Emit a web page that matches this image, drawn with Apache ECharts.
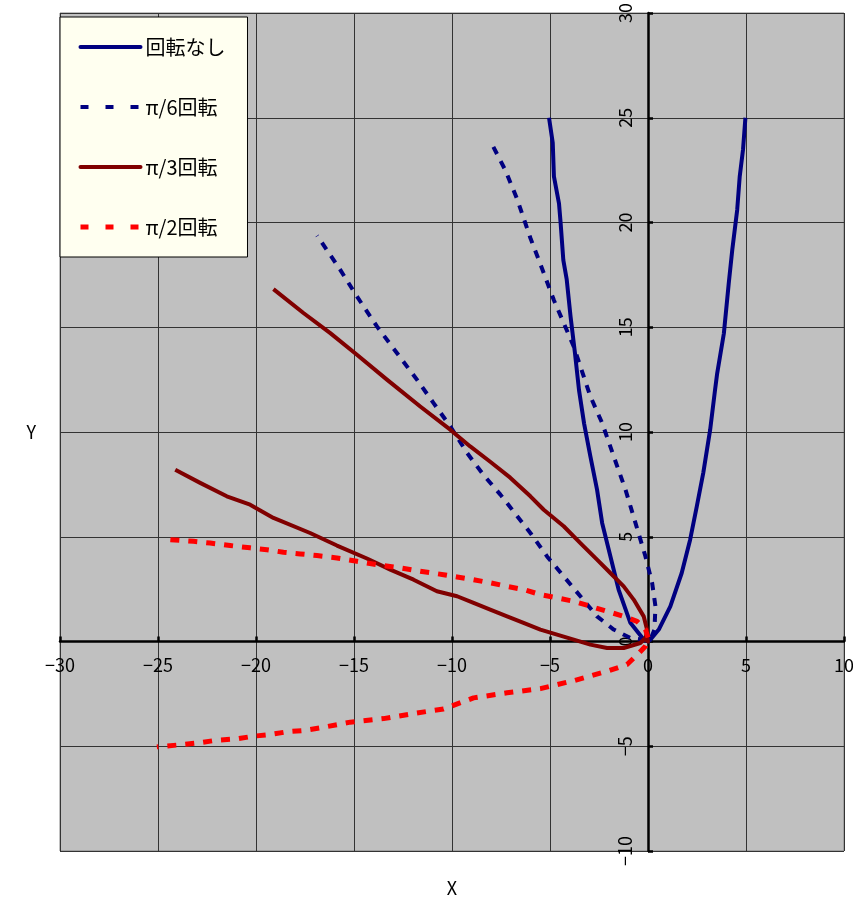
<!DOCTYPE html>
<html>
<head>
<meta charset="utf-8">
<script src="https://cdn.jsdelivr.net/npm/echarts@6/dist/echarts.min.js"></script>
<style>
  html, body { margin: 0; padding: 0; background: #fff; }
  #chart { width: 853px; height: 902px; }
</style>
</head>
<body>
<div id="chart"></div>
<script>
// series names
const names = ['回転なし', 'π/6回転', 'π/3回転', 'π/2回転'];

// axis ranges / ticks
const xRange = [-30, 10];
const yRange = [-10, 30];
const tickStep = 5;

// points, [x, y]
const noRot = [
  [-5.05, 25.0], [-4.86, 23.8], [-4.80, 22.2], [-4.54, 20.9], [-4.46, 20.0],
  [-4.32, 18.2], [-4.15, 17.3], [-3.95, 15.5], [-3.73, 13.8], [-3.52, 12.0],
  [-3.26, 10.4], [-2.94, 8.84], [-2.60, 7.25], [-2.34, 5.66], [-1.92, 4.07],
  [-1.50, 2.48], [-0.90, 0.89], [-0.22, 0.09], [0, 0], [0.12, 0.09],
  [0.55, 0.57], [1.14, 1.68], [1.72, 3.27], [2.15, 4.86], [2.49, 6.45],
  [2.82, 8.05], [3.17, 10.1], [3.42, 12.0], [3.53, 12.8], [3.87, 14.7],
  [4.12, 17.1], [4.30, 18.7], [4.55, 20.6], [4.68, 22.2], [4.85, 23.5], [4.97, 25.0]
];

const rot30 = [
  [-7.89, 23.61], [-7.28, 22.5], [-6.67, 21.1], [-6.00, 19.26], [-5.32, 17.59],
  [-4.81, 16.31], [-4.30, 15.20], [-3.79, 14.08], [-3.45, 13.13], [-2.94, 11.70],
  [-2.34, 10.43], [-1.75, 8.84], [-1.15, 7.25], [-0.64, 5.66], [-0.13, 4.06],
  [0.21, 2.80], [0.38, 1.68], [0.33, 0.57], [0.12, 0.09], [0, 0],
  [-0.23, 0.09], [-0.90, 0.17], [-1.75, 0.57], [-2.60, 1.20], [-3.45, 2.16],
  [-4.30, 3.11], [-5.15, 4.06], [-6.00, 5.18], [-6.77, 6.10], [-7.53, 7.01],
  [-8.40, 7.96], [-9.23, 9.00], [-10.09, 10.27], [-10.94, 11.38], [-11.79, 12.50],
  [-12.81, 13.77], [-13.83, 15.04], [-14.85, 16.47], [-15.70, 17.74], [-16.88, 19.37]
];

const rot60 = [
  [-19.11, 16.82], [-17.58, 15.68], [-16.21, 14.72], [-14.85, 13.69], [-13.32, 12.50],
  [-11.62, 11.22], [-10.09, 10.11], [-9.07, 9.31], [-8.05, 8.58], [-7.03, 7.82],
  [-6.00, 6.93], [-5.32, 6.29], [-4.30, 5.50], [-3.45, 4.70], [-2.60, 3.91],
  [-1.92, 3.27], [-1.24, 2.63], [-0.73, 2.00], [-0.22, 1.20], [-0.05, 0.57],
  [-0.13, 0.09], [0, 0], [-0.05, 0.25], [-0.39, -0.07], [-1.24, -0.31],
  [-2.09, -0.31], [-2.94, -0.15], [-3.79, 0.09], [-4.64, 0.33], [-5.49, 0.57],
  [-6.35, 0.89], [-7.19, 1.20], [-8.05, 1.52], [-8.90, 1.84], [-9.74, 2.16],
  [-10.77, 2.40], [-11.96, 2.95], [-13.15, 3.43], [-14.34, 3.96], [-15.87, 4.58],
  [-17.24, 5.18], [-19.11, 5.90], [-20.30, 6.53], [-21.49, 6.93], [-22.85, 7.57], [-24.12, 8.20]
];

const rot90 = [
  [-24.37, 4.86], [-23.19, 4.78], [-22.34, 4.70], [-21.32, 4.58], [-20.30, 4.47],
  [-19.44, 4.38], [-18.60, 4.26], [-17.74, 4.18], [-16.89, 4.10], [-15.87, 3.99],
  [-14.85, 3.83], [-13.83, 3.67], [-12.64, 3.51], [-11.62, 3.35], [-10.43, 3.19],
  [-9.74, 3.08], [-8.90, 2.95], [-8.05, 2.80], [-7.19, 2.63], [-6.35, 2.48],
  [-5.49, 2.24], [-4.64, 2.08], [-3.79, 1.92], [-2.94, 1.68], [-2.09, 1.44],
  [-1.24, 1.20], [-0.56, 0.96], [-0.13, 0.57], [0.04, 0.09], [0, 0],
  [-0.13, -0.23], [-0.49, -0.58], [-1.07, -1.10], [-2.09, -1.42], [-3.79, -1.87],
  [-5.49, -2.25], [-7.19, -2.45], [-8.90, -2.69], [-10.43, -3.22], [-11.79, -3.41],
  [-13.49, -3.68], [-15.19, -3.85], [-16.72, -4.12], [-17.49, -4.24], [-18.42, -4.31],
  [-19.28, -4.44], [-20.13, -4.52], [-20.98, -4.65], [-22.00, -4.71], [-22.94, -4.84],
  [-23.87, -4.93], [-25.06, -5.03]
];

const colors = ['#000080', '#000080', '#800000', '#FF0000'];
const font = '"Noto Sans CJK JP", sans-serif';
const minus = v => String(v).replace('-', '\u2212');

// plot box in pixels; axes are shifted to cross at (0, 0)
const gridLeft = 60, gridTop = 13, gridW = 784, gridH = 838;
const xZeroShift = gridW * (0 - xRange[0]) / (xRange[1] - xRange[0]);
const yZeroShift = gridH * (0 - yRange[0]) / (yRange[1] - yRange[0]);

const chart = echarts.init(document.getElementById('chart'), null, { renderer: 'canvas' });

function lineSeries(i, data, width, type) {
  return {
    name: names[i],
    type: 'line',
    data: data,
    showSymbol: false,
    symbol: 'none',
    smooth: false,
    animation: false,
    lineStyle: { color: colors[i], width: width, type: type, join: 'round' },
    itemStyle: { color: colors[i] }
  };
}

chart.setOption({
  backgroundColor: '#ffffff',
  animation: false,
  grid: {
    left: gridLeft, top: gridTop, width: gridW, height: gridH,
    outerBoundsMode: 'none',
    containLabel: false,
    show: true, backgroundColor: '#C0C0C0', borderColor: '#808080', borderWidth: 1
  },
  legend: {
    orient: 'vertical',
    left: 60, top: 17,
    backgroundColor: '#FFFFF0',
    borderColor: '#000', borderWidth: 1,
    padding: [20, 22, 20, 18],
    itemWidth: 60, itemHeight: 20, itemGap: 40,
    itemStyle: { color: 'rgba(0,0,0,0)', borderColor: 'rgba(0,0,0,0)', borderWidth: 0 },
    textStyle: { fontSize: 20, color: '#000', fontFamily: font, lineHeight: 20 },
    data: [
      { name: names[0], lineStyle: { width: 4, cap: 'round' } },
      { name: names[1], lineStyle: { width: 4, type: [8, 17] } },
      { name: names[2], lineStyle: { width: 4, cap: 'round' } },
      { name: names[3], lineStyle: { width: 5, type: [8, 17] } }
    ]
  },
  xAxis: {
    type: 'value',
    position: 'bottom',
    offset: -yZeroShift,
    min: xRange[0], max: xRange[1], interval: tickStep,
    name: 'X', nameLocation: 'middle', nameGap: 238,
    nameTextStyle: { fontSize: 18, color: '#000', fontFamily: font },
    axisLine: { onZero: false, lineStyle: { color: '#000', width: 2.5 } },
    axisTick: { inside: true, length: 5, lineStyle: { color: '#000', width: 2.5 } },
    axisLabel: { margin: 15, fontSize: 18, color: '#000', fontFamily: font, formatter: minus },
    splitLine: { show: true, lineStyle: { color: '#333', width: 1 } }
  },
  yAxis: {
    type: 'value',
    position: 'left',
    offset: -xZeroShift,
    min: yRange[0], max: yRange[1], interval: tickStep,
    name: 'Y', nameLocation: 'middle', nameGap: 612, nameRotate: 0,
    nameTextStyle: { fontSize: 18, color: '#000', fontFamily: font },
    axisLine: { onZero: false, lineStyle: { color: '#000', width: 2.5 } },
    axisTick: { inside: true, length: 5, lineStyle: { color: '#000', width: 2.5 } },
    axisLabel: { rotate: 90, margin: 14, fontSize: 18, color: '#000', fontFamily: font, formatter: minus },
    splitLine: { show: true, lineStyle: { color: '#333', width: 1 } }
  },
  series: [
    lineSeries(0, noRot, 4, 'solid'),
    lineSeries(1, rot30, 4, [8, 8]),
    lineSeries(2, rot60, 4, 'solid'),
    lineSeries(3, rot90, 5, [9, 9])
  ]
});
</script>
</body>
</html>
